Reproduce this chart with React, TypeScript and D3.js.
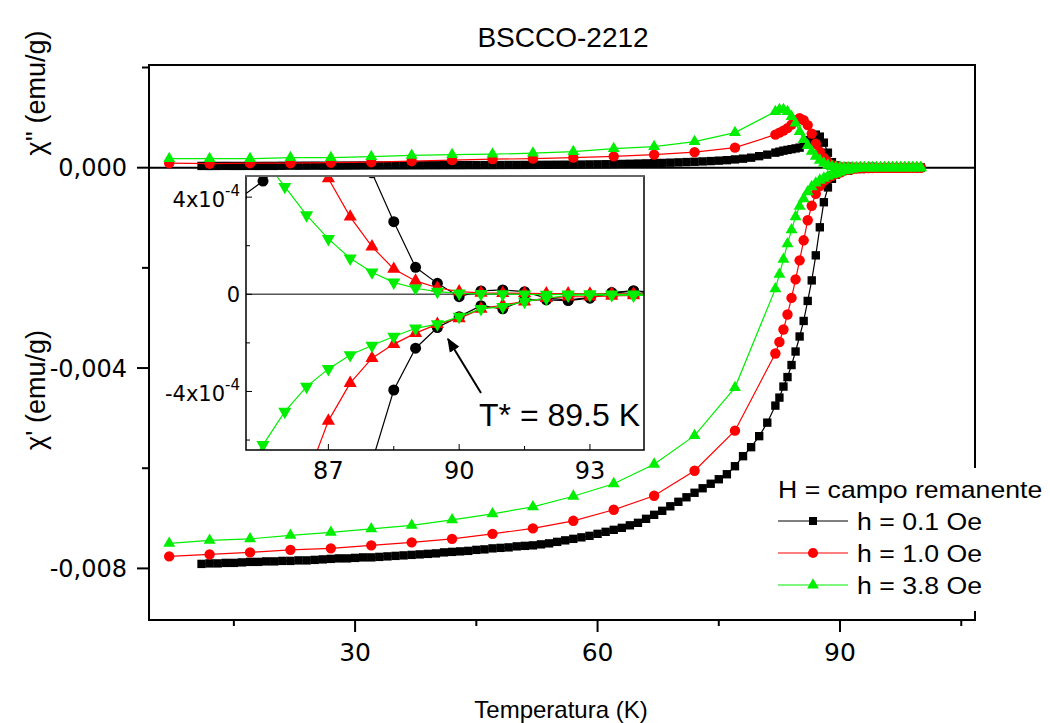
import React from 'react';
import * as d3 from 'd3';

// ---------- data (values in units of 1e-3 emu/g) ----------
const T_BLACK = [11,12,13,14,15,16,17,18,19,20,21,22,23,24,25,26,27,28,29,30,31,32,33,34,35,36,37,38,39,40,41,42,43,44,45,46,47,48,49,50,51,52,53,54,55,56,57,58,59,60,61,62,63,64,65,66,67,68,69,70,71,72,73,74,75,76,77,78,79,80,81,82,82.5,83,83.5,84,84.5,85,85.5,86,86.5,87,87.5,88,88.5,89,89.5,90,90.5,91,91.5,92,92.5,93,93.5,94,94.5,95,95.5,96,96.5,97,97.5,98,98.5,99,99.5,100];
const CHI1_BLACK = [
  -7.91,-7.90,-7.90,-7.89,-7.89,-7.88,-7.87,-7.87,-7.86,-7.86,
  -7.85,-7.85,-7.84,-7.84,-7.83,-7.82,-7.81,-7.80,-7.80,-7.79,
  -7.78,-7.78,-7.77,-7.76,-7.75,-7.74,-7.73,-7.72,-7.71,-7.70,
  -7.68,-7.67,-7.66,-7.65,-7.63,-7.62,-7.60,-7.59,-7.58,-7.56,
  -7.55,-7.54,-7.52,-7.50,-7.47,-7.44,-7.41,-7.38,-7.35,-7.31,
  -7.27,-7.23,-7.19,-7.14,-7.09,-7.01,-6.93,-6.85,-6.76,-6.67,
  -6.58,-6.49,-6.40,-6.31,-6.22,-6.12,-5.96,-5.76,-5.58,-5.36,
  -5.09,-4.75,
  -4.59,-4.37,-4.18,-3.94,-3.67,-3.37,-3.06,-2.66,-2.25,-1.75,
  -1.19,-0.69,-0.394,-0.222,-0.137,-0.092,-0.047,-0.060,-0.023,-0.023,
  -0.026,-0.016,0.005,0.013,0.004,0.002,0.000,-0.002,0.001,0.002,
  0.000,-0.001,0.001,0.000,0.001,0.000
];
const CHI2_BLACK = [
  0.035,0.034,0.035,0.036,0.035,0.035,0.036,0.035,0.036,0.036,
  0.038,0.040,0.039,0.040,0.041,0.040,0.042,0.041,0.042,0.043,
  0.044,0.045,0.044,0.045,0.046,0.046,0.047,0.047,0.048,0.048,
  0.049,0.050,0.050,0.051,0.051,0.052,0.052,0.053,0.054,0.054,
  0.055,0.056,0.057,0.058,0.059,0.060,0.062,0.063,0.065,0.067,
  0.069,0.072,0.075,0.078,0.082,0.086,0.090,0.095,0.100,0.106,
  0.112,0.118,0.125,0.132,0.140,0.150,0.165,0.180,0.200,0.230,
  0.260,0.300,
  0.32,0.34,0.355,0.37,0.385,0.40,0.466,0.55,0.62,0.66,
  0.62,0.50,0.299,0.111,0.045,-0.010,0.014,0.018,0.011,-0.016,
  -0.023,-0.014,0.007,0.015,0.006,0.004,0.002,0.003,0.001,0.002,
  0.001,0.002,0.000,0.001,0.001,0.000
];

const T_RG = [7,12,17,22,27,32,37,42,47,52,57,62,67,72,77,82,82.5,83,83.5,84,84.5,85,85.5,86,86.5,87,87.5,88,88.5,89,89.5,90,90.5,91,91.5,92,92.5,93,93.5,94,94.5,95,95.5,96,96.5,97,97.5,98,98.5,99,99.5,100];
const CHI1_RED = [
  -7.76,-7.72,-7.68,-7.63,-7.60,-7.54,-7.48,-7.41,-7.31,-7.20,-7.05,-6.83,-6.55,-6.05,-5.25,
  -3.71,-3.48,-3.23,-2.93,-2.60,-2.23,-1.85,-1.45,-1.05,-0.76,
  -0.521,-0.366,-0.263,-0.205,-0.160,-0.123,-0.099,-0.060,-0.044,-0.030,
  -0.016,-0.010,-0.010,-0.007,-0.005,-0.004,-0.003,-0.002,-0.002,-0.001,
  -0.001,-0.001,-0.001,0.000,0.000,0.000,0.000
];
const CHI2_RED = [
  0.09,0.08,0.09,0.09,0.10,0.11,0.13,0.15,0.17,0.18,0.20,0.225,0.26,0.31,0.40,
  0.66,0.70,0.74,0.79,0.86,0.94,0.99,0.95,0.85,0.68,
  0.477,0.319,0.196,0.104,0.055,0.027,0.011,0.006,0.005,0.004,
  0.003,0.003,0.002,0.002,0.002,0.001,0.001,0.001,0.001,0.000,
  0.000,0.001,0.000,0.000,0.001,0.000,0.000
];
const CHI1_GREEN = [
  -7.50,-7.44,-7.41,-7.34,-7.28,-7.21,-7.14,-7.03,-6.91,-6.77,-6.56,-6.31,-5.92,-5.35,-4.39,
  -2.42,-2.13,-1.83,-1.52,-1.24,-0.98,-0.77,-0.62,-0.483,-0.380,
  -0.307,-0.250,-0.211,-0.174,-0.140,-0.123,-0.092,-0.060,-0.051,-0.030,
  -0.016,-0.005,-0.003,-0.003,-0.005,-0.003,-0.002,-0.002,-0.001,-0.001,
  -0.001,0.000,0.000,0.000,0.000,0.000,0.000
];
const CHI2_GREEN = [
  0.18,0.18,0.18,0.20,0.20,0.22,0.245,0.26,0.27,0.29,0.32,0.38,0.42,0.52,0.70,
  1.12,1.16,1.16,1.12,1.02,0.89,0.72,0.56,0.443,0.326,
  0.228,0.148,0.091,0.049,0.025,0.011,0.004,0.002,0.001,0.000,
  -0.001,0.000,0.001,0.000,0.000,0.001,0.000,0.000,0.000,0.000,
  0.000,0.000,0.000,0.000,0.000,0.000,0.000
];
const UNIT = 1e-3;

const X_TICKS_MAJOR = [30, 60, 90];
const X_TICKS_MINOR = [15, 45, 75, 105];
const Y_TICKS_MAJOR = [0, -0.004, -0.008];
const Y_TICK_LABELS = ['0,000', '-0,004', '-0,008'];
const Y_TICKS_MINOR = [0.002, -0.002, -0.006];
const INSET_X_MAJOR = [87, 90, 93];
const INSET_X_MINOR = [88.5, 91.5];
const INSET_Y_MAJOR = [4e-4, 0, -4e-4];
const INSET_Y_MINOR = [2e-4, -2e-4, -6e-4];

const LEGEND = [
  { label: 'h = 0.1 Oe', color: '#000000', marker: 'square' },
  { label: 'h = 1.0 Oe', color: '#ff0000', marker: 'circle' },
  { label: 'h = 3.8 Oe', color: '#00ee00', marker: 'triangle' },
];

const SANS = 'Liberation Sans, Arial, sans-serif';
const TICKFONT = 'DejaVu Sans, Verdana, sans-serif';

type Series = { t: number[]; v: number[]; color: string; marker: string; size: number; imarker: string; isize: number };

export default function App() {
  const x = d3.scaleLinear().domain([4.5, 106.7]).range([149, 975]);
  const y = d3.scaleLinear().domain([-0.00903, 0.00205]).range([620, 65]);
  const xi = d3.scaleLinear().domain([85.11, 94.24]).range([246, 644]);
  const yi = d3.scaleLinear().domain([-6.41e-4, 4.87e-4]).range([450, 176]);

  const sym = (m: string, size: number) => {
    if (m === 'square') return d3.symbol().type(d3.symbolSquare).size(size)() as string;
    if (m === 'circle') return d3.symbol().type(d3.symbolCircle).size(size)() as string;
    return d3.symbol().type(d3.symbolTriangle).size(size)() as string;
  };

  const series: Series[] = [
    { t: T_BLACK, v: CHI2_BLACK, color: '#000000', marker: 'square', size: 70, imarker: 'circle', isize: 95 },
    { t: T_BLACK, v: CHI1_BLACK, color: '#000000', marker: 'square', size: 70, imarker: 'circle', isize: 95 },
    { t: T_RG, v: CHI2_RED, color: '#ff0000', marker: 'circle', size: 85, imarker: 'triangle', isize: 75 },
    { t: T_RG, v: CHI1_RED, color: '#ff0000', marker: 'circle', size: 85, imarker: 'triangle', isize: 75 },
    { t: T_RG, v: CHI2_GREEN, color: '#00ee00', marker: 'triangle', size: 62, imarker: 'down', isize: 75 },
    { t: T_RG, v: CHI1_GREEN, color: '#00ee00', marker: 'triangle', size: 62, imarker: 'down', isize: 75 },
  ];

  const mainLine = (s: Series) =>
    d3.line<number>().x((_, i) => x(s.t[i])).y((d) => y(d * UNIT))(s.v) as string;
  const insetLine = (s: Series) =>
    d3.line<number>().x((_, i) => xi(s.t[i])).y((d) => yi(d * UNIT))(s.v) as string;

  const insetIdx = (s: Series) => s.t.map((t, i) => i).filter((i) => s.t[i] >= 84.4 && s.t[i] <= 95);

  return (
    <svg width={1050} height={723} style={{ position: 'absolute', left: 0, top: 0, background: '#fff' }}>
      <defs>
        <clipPath id="insetClip">
          <rect x={246} y={176} width={398} height={274} />
        </clipPath>
        <marker id="arrowHead" viewBox="0 0 10 10" refX="9" refY="5" markerWidth="7" markerHeight="7" orient="auto">
          <path d="M0,1 L10,5 L0,9 z" fill="#000" />
        </marker>
      </defs>
      <rect x={0} y={0} width={1050} height={723} fill="#fff" />

      {/* title */}
      <text x={563} y={47} textAnchor="middle" fontFamily={SANS} fontSize={28} fill="#000">BSCCO-2212</text>

      {/* zero line */}
      <line x1={149} x2={975} y1={y(0)} y2={y(0)} stroke="#000" strokeWidth={2} />

      {/* main data */}
      {series.map((s, k) => (
        <g key={'m' + k}>
          <path d={mainLine(s)} fill="none" stroke={s.color} strokeWidth={1.2} />
          {s.v.map((v, i) => (
            <path key={i} d={sym(s.marker, s.size)} transform={`translate(${x(s.t[i])},${y(v * UNIT)})`} fill={s.color} />
          ))}
        </g>
      ))}

      {/* frame */}
      <rect x={149} y={65} width={826} height={555} fill="none" stroke="#000" strokeWidth={2} />

      {/* x ticks */}
      {X_TICKS_MAJOR.map((t) => (
        <g key={'xt' + t}>
          <line x1={x(t)} x2={x(t)} y1={620} y2={632} stroke="#000" strokeWidth={2} />
          <text x={x(t)} y={661} textAnchor="middle" fontFamily={TICKFONT} fontSize={25} fill="#000">{t}</text>
        </g>
      ))}
      {X_TICKS_MINOR.map((t) => (
        <line key={'xm' + t} x1={x(t)} x2={x(t)} y1={620} y2={626} stroke="#000" strokeWidth={2} />
      ))}
      {/* y ticks */}
      {Y_TICKS_MAJOR.map((v, i) => (
        <g key={'yt' + i}>
          <line x1={137} x2={149} y1={y(v)} y2={y(v)} stroke="#000" strokeWidth={2} />
          <text x={127} y={y(v)} dy="0.36em" textAnchor="end" fontFamily={TICKFONT} fontSize={24} fill="#000">{Y_TICK_LABELS[i]}</text>
        </g>
      ))}
      {Y_TICKS_MINOR.map((v, i) => (
        <line key={'ym' + i} x1={142} x2={149} y1={y(v)} y2={y(v)} stroke="#000" strokeWidth={2} />
      ))}

      {/* axis titles */}
      <text transform="translate(45,93) rotate(-90)" textAnchor="middle" fontFamily={SANS} fontSize={27} fill="#000">χ'' (emu/g)</text>
      <text transform="translate(45,390) rotate(-90)" textAnchor="middle" fontFamily={SANS} fontSize={27} fill="#000">χ' (emu/g)</text>
      <text x={561} y={718} textAnchor="middle" fontFamily={SANS} fontSize={24} fill="#000">Temperatura (K)</text>

      {/* inset */}
      <rect x={246} y={176} width={398} height={274} fill="#fff" />
      <line x1={246} x2={644} y1={yi(0)} y2={yi(0)} stroke="#555" strokeWidth={1.5} />
      <g clipPath="url(#insetClip)">
        {series.map((s, k) => {
          const idx = insetIdx(s);
          const sub: Series = { ...s, t: idx.map((i) => s.t[i]), v: idx.map((i) => s.v[i]) };
          return (
            <g key={'i' + k}>
              <path d={insetLine(sub)} fill="none" stroke={s.color} strokeWidth={1.2} />
              {sub.v.map((v, i) => (
                <path
                  key={i}
                  d={sym(s.imarker === 'down' ? 'triangle' : s.imarker, s.isize)}
                  transform={`translate(${xi(sub.t[i])},${yi(v * UNIT)})${s.imarker === 'down' ? ' rotate(180)' : ''}`}
                  fill={s.color}
                />
              ))}
            </g>
          );
        })}
      </g>
      <rect x={246} y={176} width={398} height={274} fill="none" stroke="#000" strokeWidth={1.5} />
      <line x1={246} x2={644} y1={176} y2={176} stroke="#666" strokeWidth={2} />
      {INSET_X_MAJOR.map((t) => (
        <g key={'ixt' + t}>
          <line x1={xi(t)} x2={xi(t)} y1={450} y2={444} stroke="#000" strokeWidth={1} />
          <text x={xi(t)} y={479} textAnchor="middle" fontFamily={TICKFONT} fontSize={24} fill="#000">{t}</text>
        </g>
      ))}
      {INSET_X_MINOR.map((t) => (
        <line key={'ixm' + t} x1={xi(t)} x2={xi(t)} y1={450} y2={446} stroke="#000" strokeWidth={1} />
      ))}
      {INSET_Y_MAJOR.map((v) => (
        <line key={'iyt' + v} x1={246} x2={252} y1={yi(v)} y2={yi(v)} stroke="#000" strokeWidth={1} />
      ))}
      {INSET_Y_MINOR.map((v) => (
        <line key={'iym' + v} x1={246} x2={250} y1={yi(v)} y2={yi(v)} stroke="#000" strokeWidth={1} />
      ))}
      <text x={240} y={yi(4e-4) + 10} textAnchor="end" fontFamily={TICKFONT} fontSize={21} fill="#000">
        4x10<tspan fontSize={15} dy={-11}>-4</tspan>
      </text>
      <text x={240} y={yi(0)} dy="0.36em" textAnchor="end" fontFamily={TICKFONT} fontSize={21} fill="#000">0</text>
      <text x={240} y={yi(-4e-4) + 10} textAnchor="end" fontFamily={TICKFONT} fontSize={21} fill="#000">
        -4x10<tspan fontSize={15} dy={-11}>-4</tspan>
      </text>

      {/* arrow + annotation */}
      <line x1={481} y1={393} x2={448} y2={339} stroke="#000" strokeWidth={2} markerEnd="url(#arrowHead)" />
      <text x={479} y={426} fontFamily={SANS} fontSize={32} fill="#000">T* = 89.5 K</text>

      {/* legend */}
      <rect x={770} y={468} width={280} height={143} fill="#fff" />
      <text transform="translate(778,498) scale(1.11,1)" fontFamily={SANS} fontSize={24} fill="#000">H = campo remanente</text>
      {LEGEND.map((l, i) => {
        const ly = 521 + i * 32;
        return (
          <g key={'lg' + i}>
            <line x1={778} x2={848} y1={ly} y2={ly} stroke={l.color} strokeWidth={1.2} />
            <path d={sym(l.marker, l.marker === 'square' ? 64 : l.marker === 'circle' ? 80 : 60)} transform={`translate(813,${ly})`} fill={l.color} />
            <text transform={`translate(857,${ly + 9}) scale(1.11,1)`} fontFamily={SANS} fontSize={24} fill="#000">{l.label}</text>
          </g>
        );
      })}
    </svg>
  );
}
